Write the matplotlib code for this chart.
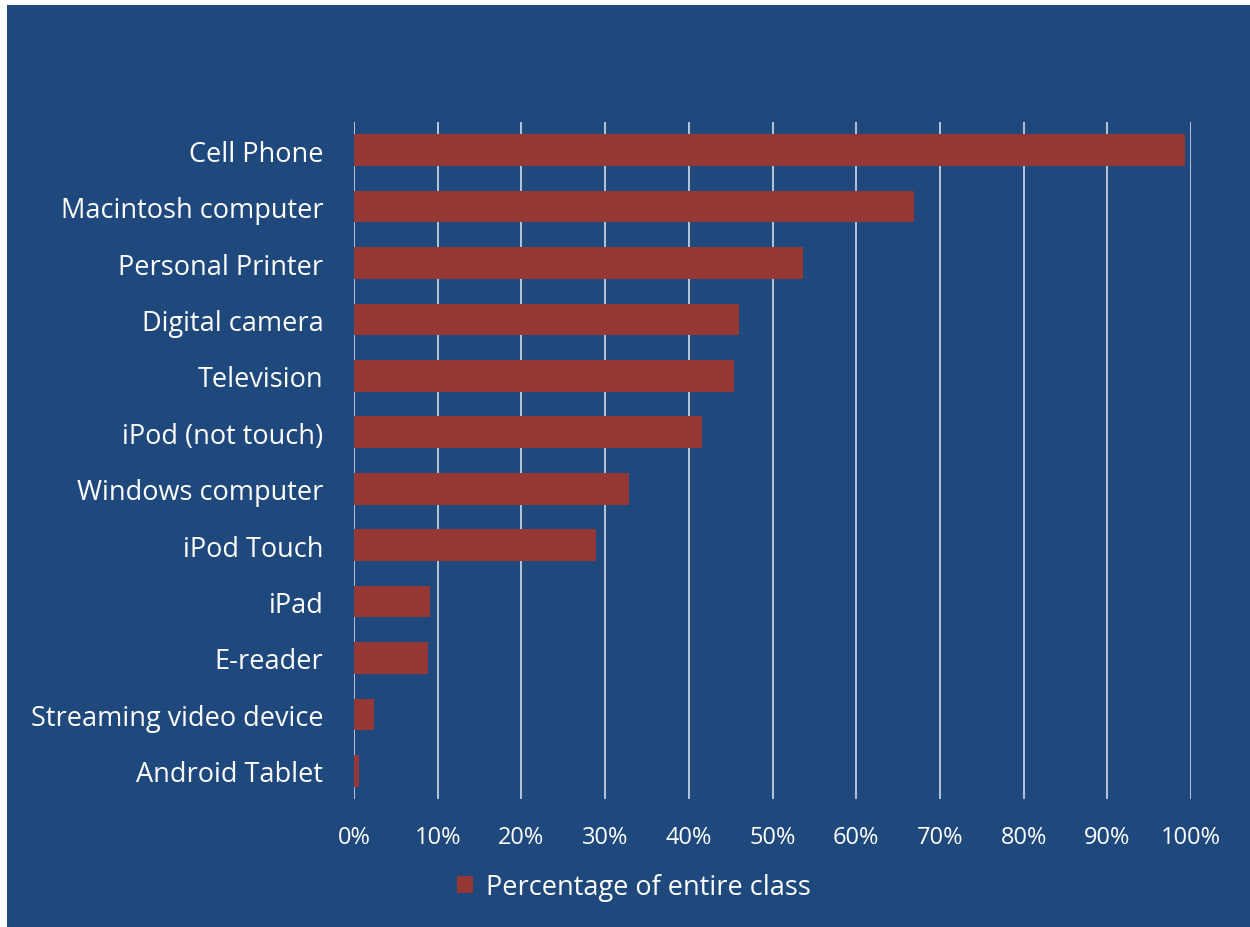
import matplotlib
matplotlib.use("Agg")
import matplotlib.pyplot as plt
from matplotlib.patches import Rectangle
from matplotlib.ticker import FuncFormatter, MultipleLocator

categories = ["Cell Phone", "Macintosh computer", "Personal Printer", "Digital camera",
              "Television", "iPod (not touch)", "Windows computer", "iPod Touch",
              "iPad", "E-reader", "Streaming video device", "Android Tablet"]
values = [99.3, 66.9, 53.6, 46.0, 45.4, 41.6, 32.9, 28.9, 9.1, 8.8, 2.4, 0.6]
series_name = "Percentage of entire class"

BG = "#1f497d"
BAR = "#953735"
TXT = "#ffffff"

plt.rcParams['font.family'] = ['Open Sans', 'DejaVu Sans']

fig = plt.figure(figsize=(12.5, 9.28), dpi=100)
fig.patch.set_facecolor("white")
fig.patches.append(Rectangle((7/1250, 0), 1 - 7/1250, 1 - 6/928, transform=fig.transFigure,
                             facecolor=BG, edgecolor="none", zorder=-10))

ax = fig.add_axes([354/1250, 1 - 800/928, (1191 - 354)/1250, (800 - 123)/928])
ax.set_zorder(5)
ax.set_facecolor("none")
ypos = list(range(len(categories)))
ax.barh(ypos, values, height=0.56, color=BAR, zorder=3, label=series_name)
ax.set_ylim(len(categories) - 0.5, -0.5)
ax.set_xlim(0, 100)
ax.xaxis.set_major_locator(MultipleLocator(10))
ax.xaxis.set_major_formatter(FuncFormatter(lambda v, p: f"{int(round(v))}%"))
ax.set_yticks(ypos)
ax.set_yticklabels(categories)
ax.grid(axis="x", color="#d0dae8", linewidth=1.2, zorder=1)
for s in ax.spines.values():
    s.set_visible(False)
ax.tick_params(axis="both", length=0, colors=TXT)
ax.tick_params(axis="y", labelsize=19.5, pad=22)
ax.tick_params(axis="x", labelsize=17, pad=19)

leg = fig.legend(loc="center", bbox_to_anchor=(634/1250, 1 - 888/928), frameon=False,
                 fontsize=19.5, handlelength=0.6, handleheight=0.6, handletextpad=0.5)
leg.set_zorder(6)
for t in leg.get_texts():
    t.set_color(TXT)

fig.savefig("out.png", dpi=100, facecolor=fig.get_facecolor())
